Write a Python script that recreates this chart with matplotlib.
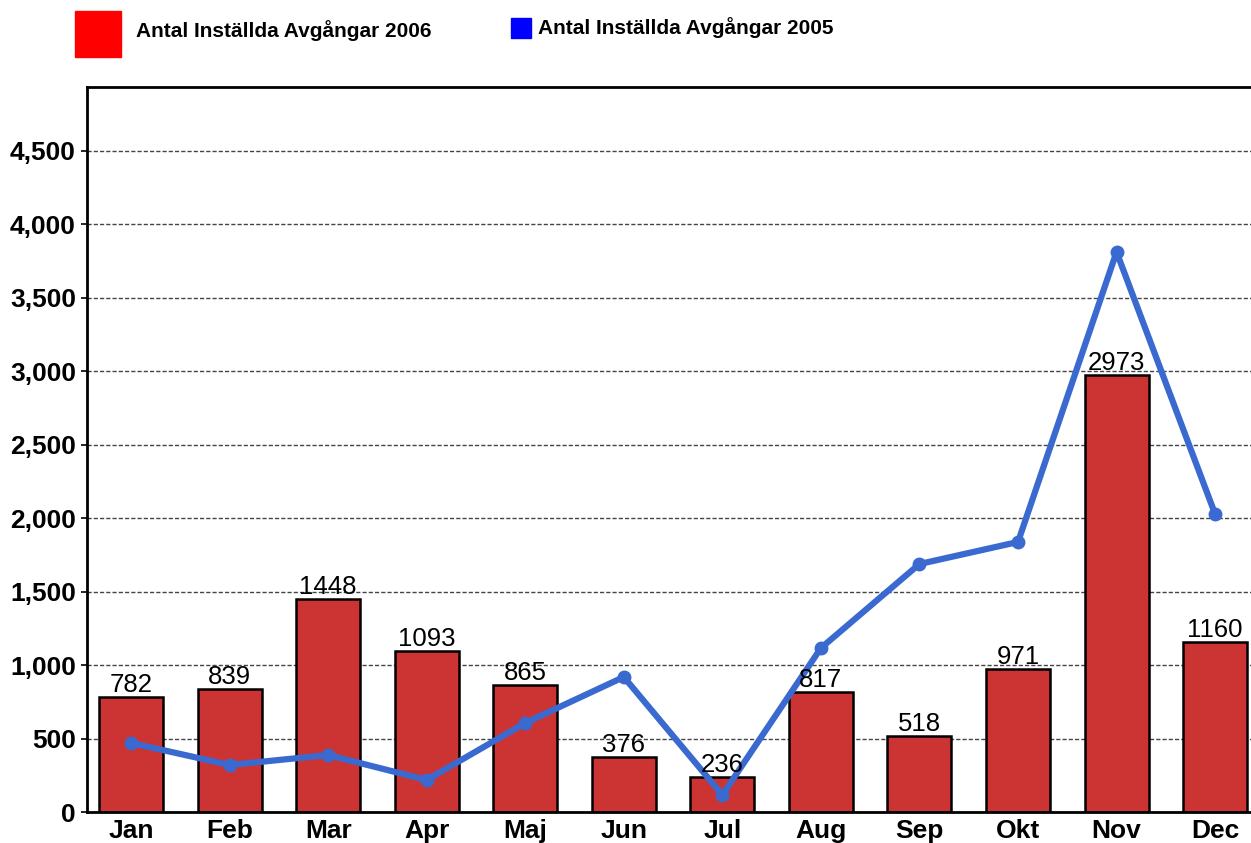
import matplotlib
matplotlib.use('Agg')
import matplotlib.pyplot as plt
from matplotlib.ticker import FuncFormatter
import numpy as np

months = ['Jan', 'Feb', 'Mar', 'Apr', 'Maj', 'Jun', 'Jul', 'Aug', 'Sep', 'Okt', 'Nov', 'Dec']
cancelled_2006 = [782, 839, 1448, 1093, 865, 376, 236, 817, 518, 971, 2973, 1160]
cancelled_2005 = [470, 320, 388, 218, 606, 919, 116, 1116, 1688, 1838, 3812, 2028]
yticks = [0, 500, 1000, 1500, 2000, 2500, 3000, 3500, 4000, 4500]

plt.rcParams['font.family'] = ['Liberation Sans', 'DejaVu Sans']

fig = plt.figure(figsize=(12.51, 8.43), dpi=100)
ax = fig.add_axes([87/1251, 1-812/843, (1251-87)/1251, (812-87)/843])

x = np.arange(len(months))
ax.bar(x, cancelled_2006, width=0.65, color='#cc3333', edgecolor='black', linewidth=1.8, zorder=2)
for xi, v in zip(x, cancelled_2006):
    ax.annotate(str(v), (xi, v), xytext=(0, 0), textcoords='offset points',
                ha='center', va='bottom', fontsize=18.5, zorder=4)
ax.plot(x, cancelled_2005, color='#3a6ad0', linewidth=4.5, marker='o', markersize=9, zorder=3)

ax.set_xlim(-0.447, -0.447 + (1251-87)/98.55)
ax.set_ylim(0, 4935)
ax.set_yticks(yticks)
ax.yaxis.set_major_formatter(FuncFormatter(lambda v, p: '{:,.0f}'.format(v)))
ax.set_xticks(x)
ax.set_xticklabels(months)
ax.tick_params(axis='x', length=0, pad=5, labelsize=19)
ax.tick_params(axis='y', length=4, width=1.2, pad=4, labelsize=19)
for lab in ax.get_xticklabels() + ax.get_yticklabels():
    lab.set_fontweight('bold')
ax.yaxis.grid(True, linestyle=(0, (3, 1.5)), color='#444444', linewidth=1, zorder=0)
ax.set_axisbelow(True)
for s in ['left', 'top', 'bottom']:
    ax.spines[s].set_linewidth(2)
ax.spines['right'].set_visible(False)

# legend drawn as figure patches
fig.patches.append(plt.Rectangle((75/1251, 1-57/843), 46/1251, 46/843,
                                 transform=fig.transFigure, color='#ff0000'))
fig.text(136/1251, 1-31/843, 'Antal Inställda Avgångar 2006', fontsize=15,
         fontweight='bold', va='center', ha='left')
fig.patches.append(plt.Rectangle((511/1251, 1-38/843), 20/1251, 20/843,
                                 transform=fig.transFigure, color='#0000ff'))
fig.text(538/1251, 1-28/843, 'Antal Inställda Avgångar 2005', fontsize=15,
         fontweight='bold', va='center', ha='left')

fig.savefig('out.png', dpi=100)
